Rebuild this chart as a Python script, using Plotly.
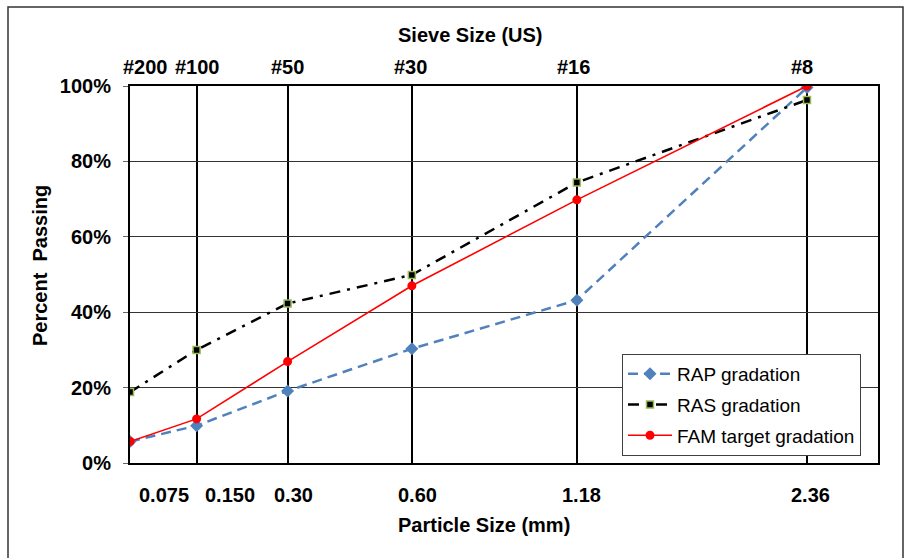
import numpy as np
import plotly.graph_objects as go

# ---- data ----
sizes_mm = [0.075, 0.150, 0.30, 0.60, 1.18, 2.36]
size_labels = ["0.075", "0.150", "0.30", "0.60", "1.18", "2.36"]
sieve_labels = ["#200", "#100", "#50", "#30", "#16", "#8"]
rap = [5.7, 9.9, 19.1, 30.3, 43.2, 99.6]
ras = [18.8, 30.0, 42.3, 49.9, 74.4, 96.3]
fam = [5.7, 11.7, 26.9, 47.0, 69.8, 100.0]

POW = 0.45
xs = np.array(sizes_mm) ** POW

FONT = "Liberation Sans, Arial, sans-serif"

fig = go.Figure()
fig.add_trace(go.Scatter(
    x=xs, y=rap, name="RAP gradation", mode="lines+markers", legendgroup="a",
    line=dict(color="#4F81BD", width=2.5, dash="10px,6px"),
    marker=dict(symbol="diamond", size=10, color="#4F81BD")))
fig.add_trace(go.Scatter(
    x=xs, y=ras, name="RAS gradation", mode="lines+markers", legendgroup="b",
    line=dict(color="black", width=2.5, dash="11px,7px,3px,7px"),
    marker=dict(symbol="square", size=7, color="black",
                line=dict(color="#9BBB59", width=1.5))))
fig.add_trace(go.Scatter(
    x=xs, y=fam, name="FAM target gradation", mode="lines+markers", legendgroup="c",
    line=dict(color="#FF0000", width=1.6),
    marker=dict(symbol="circle", size=9, color="#FF0000")))

L, R, T, B = 130, 26, 86, 95
W, H = 904, 558
pw, ph = W - L - R, H - T - B

def px_to_paper_x(p):
    return (p - L) / pw

def px_to_paper_y(p):
    return (H - B - p) / ph

BOLD = dict(family=FONT, size=20, color="black", weight="bold")

annotations = []
bottom_shift = [34, 33, 6, 6, 5, 3]
top_shift = [15, 1, 0, -1, -3, -5]
for xv, lab, sh in zip(xs, size_labels, bottom_shift):
    annotations.append(dict(x=xv, y=px_to_paper_y(495), xref="x", yref="paper",
                            text=lab, showarrow=False, xshift=sh, font=BOLD,
                            xanchor="center", yanchor="middle"))
for xv, lab, sh in zip(xs, sieve_labels, top_shift):
    annotations.append(dict(x=xv, y=px_to_paper_y(67), xref="x", yref="paper",
                            text=lab, showarrow=False, xshift=sh, font=BOLD,
                            xanchor="center", yanchor="middle"))
annotations.append(dict(x=px_to_paper_x(484), y=px_to_paper_y(525), xref="paper", yref="paper",
                        text="Particle Size (mm)", showarrow=False, font=BOLD,
                        xanchor="center", yanchor="middle"))
annotations.append(dict(x=px_to_paper_x(470), y=px_to_paper_y(35), xref="paper", yref="paper",
                        text="Sieve Size (US)", showarrow=False, font=BOLD,
                        xanchor="center", yanchor="middle"))
annotations.append(dict(x=px_to_paper_x(40), y=px_to_paper_y(266), xref="paper", yref="paper",
                        text="Percent  Passing", showarrow=False, textangle=-90, font=BOLD,
                        xanchor="center", yanchor="middle"))

fig.update_layout(
    width=W, height=H,
    margin=dict(l=L, r=R, t=T, b=B),
    paper_bgcolor="white", plot_bgcolor="white",
    font=dict(family=FONT, size=20, color="black"),
    showlegend=True,
    legend=dict(x=px_to_paper_x(622), y=px_to_paper_y(354), xanchor="left", yanchor="top",
                bgcolor="white", bordercolor="#404040", borderwidth=1,
                font=dict(family=FONT, size=19, color="black"),
                tracegroupgap=3, itemwidth=44),
    annotations=annotations,
    shapes=[dict(type="rect", xref="paper", yref="paper",
                 x0=px_to_paper_x(8), x1=px_to_paper_x(903),
                 y0=px_to_paper_y(562), y1=px_to_paper_y(7),
                 line=dict(color="#333333", width=1.5), layer="below")],
)
fig.update_xaxes(
    range=[0.31172, 1.5933], tickvals=xs, ticktext=[""] * len(xs),
    showgrid=True, gridcolor="black", gridwidth=1.5,
    showline=True, linecolor="black", linewidth=1.5, mirror=True,
    ticks="", zeroline=False, fixedrange=True)
fig.update_yaxes(
    range=[0, 100], dtick=20, ticksuffix="%", tickfont=BOLD,
    showgrid=True, gridcolor="#333333", gridwidth=1,
    showline=True, linecolor="black", linewidth=2, mirror=True,
    ticks="outside", ticklen=5, tickcolor="#666666", ticklabelstandoff=8,
    zeroline=False, fixedrange=True)

fig.write_html("out.html")
